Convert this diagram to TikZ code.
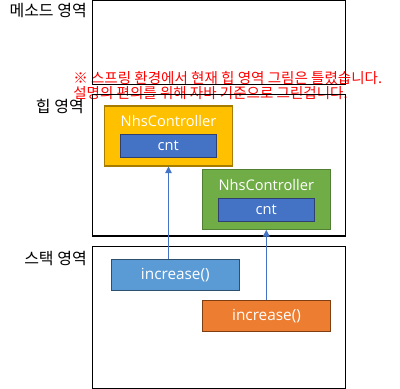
\documentclass[tikz,border=0pt]{standalone}
\usepackage{fontspec}
\setmainfont{Noto Sans CJK KR}
\newfontfamily\boxfont{Open Sans}
\usetikzlibrary{arrows.meta}
\definecolor{yel}{HTML}{FFC000}
\definecolor{yelb}{HTML}{A67C00}
\definecolor{grn}{HTML}{70AD47}
\definecolor{grnb}{HTML}{507E32}
\definecolor{dblu}{HTML}{4472C4}
\definecolor{dblub}{HTML}{2F3F6F}
\definecolor{lblu}{HTML}{5B9BD5}
\definecolor{lblub}{HTML}{2E4F6E}
\definecolor{org}{HTML}{ED7D31}
\definecolor{orgb}{HTML}{7F3F12}
\tikzset{
  region/.style={draw=black, line width=0.9pt, rectangle},
  lbl/.style={anchor=east, inner sep=0pt, font=\fontsize{12pt}{14pt}\selectfont},
  note/.style={anchor=west, inner sep=0pt, text=red, font=\fontsize{10.9pt}{12pt}\selectfont},
  objbox/.style={draw=#1, line width=0.8pt, minimum width=96pt, minimum height=45pt, inner sep=0pt},
  fieldbox/.style={draw=dblub, fill=dblu, line width=0.8pt, minimum width=72pt, minimum height=17.4pt, inner sep=0pt, text=white, font=\boxfont\fontsize{11pt}{12pt}\selectfont},
  title/.style={inner sep=0pt, text=white, font=\boxfont\fontsize{11pt}{12pt}\selectfont},
  stackbox/.style={draw=#1, line width=0.8pt, minimum width=96.3pt, minimum height=23.3pt, inner sep=0pt, text=white, font=\boxfont\fontsize{11.5pt}{12pt}\selectfont},
  arr/.style={draw=dblu, line width=0.75pt, -{Triangle[length=5pt,width=5pt]}}
}
\begin{document}
\begin{tikzpicture}[x=0.75pt,y=-0.75pt]
\useasboundingbox (0,0) rectangle (400,389);
% labels and note (drawn first, lines go over them)
\node[lbl] (lm) at (87,11) {메소드 영역};
\node[lbl] (lh) at (84,106.5) {힙 영역};
\node[lbl] (ls) at (87,259) {스택 영역};
\node[note] (n1) at (73,78) {※ 스프링 환경에서 현재 힙 영역 그림은 틀렸습니다.};
\node[note] (n2) at (73,93.5) {설명의 편의를 위해 자바 기준으로 그린겁니다.};
% regions
\draw[region] (92.3,0) rectangle (345.3,84.3);
\draw[region] (92.3,94.3) rectangle (345.3,236);
\draw[region] (92.3,246.7) rectangle (345.3,388.3);
% heap objects
\node[objbox=yelb, fill=yel] (o1) at (168.5,136) {};
\node[title] (t1) at (168.5,121) {NhsController};
\node[fieldbox] (f1) at (168.3,145.7) {cnt};
\node[objbox=grnb, fill=grn] (o2) at (266.3,199.3) {};
\node[title] (t2) at (266.3,184.5) {NhsController};
\node[fieldbox] (f2) at (266.3,209.8) {cnt};
% stack frames
\node[stackbox=lblub, fill=lblu] (s1) at (175.3,274.8) {increase()};
\node[stackbox=orgb, fill=org] (s2) at (266.5,315.8) {increase()};
% references
\draw[arr] (s1.north -| o1.south) -- (o1.south);
\draw[arr] (s2.north -| o2.south) -- (o2.south);
\end{tikzpicture}
\end{document}
